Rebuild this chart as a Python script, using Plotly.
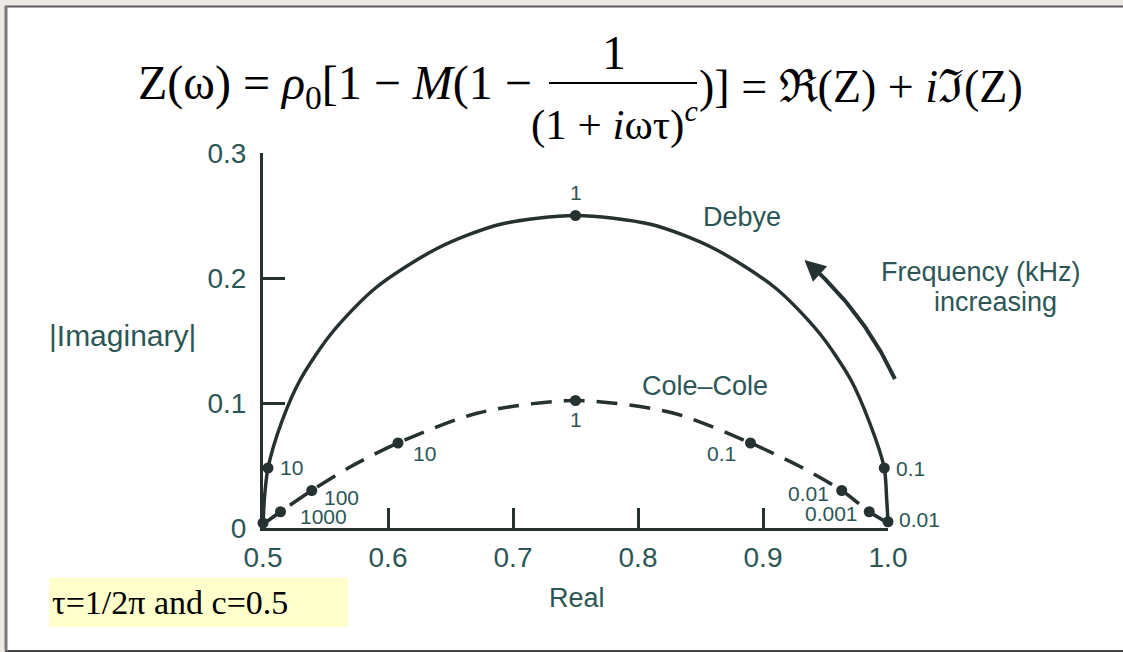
import numpy as np
import plotly.graph_objects as go

W, H = 1123, 652

# ---- data: complex resistivity, Real vs |Imaginary| (rho0 = 1, M = 0.5) ----
# Debye model, frequencies in kHz at the marked points
debye_freq = ["100", "10", "1", "0.1", "0.01"]
debye_re = [0.500, 0.504, 0.750, 0.997, 1.000]
debye_im = [0.004, 0.048, 0.250, 0.048, 0.005]
debye_show = [False, True, True, True, True]

# points along the Debye arc
debye_arc_re = [0.500, 0.501, 0.504, 0.515, 0.530, 0.555, 0.590, 0.640, 0.690, 0.750,
                0.810, 0.860, 0.910, 0.945, 0.970, 0.985, 0.997, 0.999, 1.000]
debye_arc_im = [0.000, 0.022, 0.048, 0.085, 0.119, 0.156, 0.192, 0.224, 0.243, 0.250,
                0.243, 0.224, 0.192, 0.156, 0.119, 0.085, 0.048, 0.022, 0.005]

# Cole-Cole model (c = 0.5)
cole_freq = ["1000", "100", "10", "1", "0.1", "0.01", "0.001"]
cole_re = [0.514, 0.539, 0.608, 0.750, 0.890, 0.963, 0.985]
cole_im = [0.013, 0.030, 0.068, 0.102, 0.068, 0.030, 0.013]

cole_arc_re = [0.500, 0.514, 0.539, 0.570, 0.608, 0.672, 0.750, 0.828, 0.890, 0.930, 0.963, 0.985, 1.000]
cole_arc_im = [0.003, 0.013, 0.030, 0.049, 0.068, 0.092, 0.102, 0.092, 0.068, 0.049, 0.030, 0.013, 0.004]

x_ticks = [0.5, 0.6, 0.7, 0.8, 0.9, 1.0]
x_ticktext = ["0.5", "0.6", "0.7", "0.8", "0.9", "1.0"]
y_ticks = [0.0, 0.1, 0.2, 0.3]
y_ticktext = ["0", "0.1", "0.2", "0.3"]

# ---- styling ----
INK = "#263131"
TEXT = "#2C5656"
SANS = "Liberation Sans, Arial, sans-serif"
SERIF = "Liberation Serif, Times New Roman, serif"

# pixel placement of the axes: 0.5 on the real axis and 0 on the imaginary axis
X0PX, Y0PX, SCALE = 263.0, 528.0, 1250.0


def P(px, py):
    """pixel position -> paper fraction"""
    return px / W, 1 - py / H


fig = go.Figure()

# the drawn axes (x / y) carry no marks of their own; this keeps them rendered
fig.add_trace(go.Scatter(x=[0.5, 1.0], y=[0.0, 0.3], mode="markers", xaxis="x", yaxis="y",
                         marker=dict(opacity=0), hoverinfo="skip", showlegend=False))

# full-canvas data axes sharing the same scale as the drawn axes (no clipping)
x2_range = [0.5 - X0PX / SCALE, 0.5 + (W - X0PX) / SCALE]
y2_range = [-(H - Y0PX) / SCALE, Y0PX / SCALE]

fig.add_trace(go.Scatter(
    x=debye_arc_re, y=debye_arc_im, mode="lines", xaxis="x2", yaxis="y2",
    line=dict(color=INK, width=3.5, shape="spline", smoothing=0.8),
    hoverinfo="skip", showlegend=False))
fig.add_trace(go.Scatter(
    x=cole_arc_re, y=cole_arc_im, mode="lines", xaxis="x2", yaxis="y2",
    line=dict(color=INK, width=3.5, shape="spline", smoothing=0.8, dash="21px,12px"),
    hoverinfo="skip", showlegend=False))
fig.add_trace(go.Scatter(
    x=debye_re, y=debye_im, mode="markers", xaxis="x2", yaxis="y2",
    marker=dict(color=INK, size=11), cliponaxis=False, showlegend=False))
fig.add_trace(go.Scatter(
    x=cole_re, y=cole_im, mode="markers", xaxis="x2", yaxis="y2",
    marker=dict(color=INK, size=11), cliponaxis=False, showlegend=False))

# "frequency increasing" arc arrow, concentric with the Debye circle
r_arrow = 0.282
ang = np.radians(np.linspace(25.0, 47.0, 40))
fig.add_trace(go.Scatter(
    x=0.75 + r_arrow * np.cos(ang), y=r_arrow * np.sin(ang), mode="lines",
    xaxis="x2", yaxis="y2", line=dict(color=INK, width=4),
    hoverinfo="skip", showlegend=False))

annotations = []
head_a, tail_a = np.radians(49.5), np.radians(46.5)
annotations.append(dict(
    x=0.75 + r_arrow * np.cos(head_a), y=r_arrow * np.sin(head_a),
    ax=0.75 + r_arrow * np.cos(tail_a), ay=r_arrow * np.sin(tail_a),
    xref="x2", yref="y2", axref="x2", ayref="y2", text="", showarrow=True,
    arrowhead=2, arrowsize=1.05, arrowwidth=4, arrowcolor=INK, standoff=0))

# frequency labels beside the points
small = dict(family=SANS, size=21, color=TEXT)
debye_offsets = {"10": (10, 1, "left"), "1": (0, 23, "center"),
                 "0.1": (10, 0, "left"), "0.01": (9, 2, "left")}
for f, xr, yi, show in zip(debye_freq, debye_re, debye_im, debye_show):
    if not show:
        continue
    dx, dy, anc = debye_offsets[f]
    annotations.append(dict(x=xr, y=yi, xref="x2", yref="y2", text=f, showarrow=False,
                            xanchor=anc, yanchor="middle", xshift=dx, yshift=dy, font=small))

cole_offsets = {"1000": (17, -5, "left"), "100": (10, -7, "left"), "10": (13, -10, "left"),
                "1": (0, -19, "center"), "0.1": (-13, -10, "right"),
                "0.01": (-11, -3, "right"), "0.001": (-9, -2, "right")}
for f, xr, yi in zip(cole_freq, cole_re, cole_im):
    dx, dy, anc = cole_offsets[f]
    annotations.append(dict(x=xr, y=yi, xref="x2", yref="y2", text=f, showarrow=False,
                            xanchor=anc, yanchor="middle", xshift=dx, yshift=dy, font=small))

big = dict(family=SANS, size=27, color=TEXT)


def label(px, py, text, font, xanchor="center", yanchor="middle"):
    x, y = P(px, py)
    annotations.append(dict(x=x, y=y, xref="paper", yref="paper", text=text, showarrow=False,
                            xanchor=xanchor, yanchor=yanchor, font=font))


label(742, 217, "Debye", big)
label(705, 386, "Cole–Cole", big)
label(981, 272, "Frequency (kHz)", big)
label(995, 302, "increasing", big)
label(122, 335, "|Imaginary|", dict(family=SANS, size=30, color=TEXT))
label(577, 598, "Real", big)

# model equation
eq = dict(family=SERIF, size=48, color="black")
label(546, 86, "Z(ω) = <i>ρ</i><sub>0</sub>[1 − <i>M</i>(1 − ", eq, xanchor="right")
label(614, 53, "1", eq)
label(618, 121, "(1 + <i>i</i>ωτ)<sup><i>c</i> </sup>", dict(family=SERIF, size=43, color="black"))
label(697, 86, ")] = ℜ(Z) + <i>i</i>ℑ(Z)", dict(family=SERIF, size=46, color="black"), xanchor="left")

# parameter note
label(50, 602, "τ=1/2π and c=0.5", dict(family=SERIF, size=34, color="black"), xanchor="left")

shapes = []


def rect(px0, py0, px1, py1, fill, layer="below"):
    x0, y0 = P(px0, py0)
    x1, y1 = P(px1, py1)
    shapes.append(dict(type="rect", xref="paper", yref="paper", x0=x0, y0=y0, x1=x1, y1=y1,
                       fillcolor=fill, line=dict(width=0), layer=layer))


def hline(px0, px1, py, color, width, layer="below"):
    x0, y = P(px0, py)
    x1, _ = P(px1, py)
    shapes.append(dict(type="line", xref="paper", yref="paper", x0=x0, y0=y, x1=x1, y1=y,
                       line=dict(color=color, width=width), layer=layer))


# page frame: beige margin at top and left, dark inset edges
rect(-4, -4, W + 4, 6, "#ECE8E4")
rect(-4, -4, 5, H + 4, "#ECE8E4")
hline(5, W + 4, 6.5, "#5a5a5a", 2)
hline(5, W + 4, 651, "#444444", 2)
x_l, y_t = P(6, 6)
_, y_b = P(6, 651)
shapes.append(dict(type="line", xref="paper", yref="paper", x0=x_l, y0=y_t, x1=x_l, y1=y_b,
                   line=dict(color="#7a7a7a", width=3), layer="below"))
# highlighted note box
rect(49, 578, 348, 627, "#FFFFCC")
# fraction bar
hline(549, 697, 83, "black", 2, layer="above")

axis_common = dict(showgrid=False, zeroline=False, showline=True, linecolor=INK, linewidth=3,
                   ticks="inside", tickwidth=3, tickcolor=INK, automargin=False,
                   tickfont=dict(family=SANS, size=28, color=TEXT), fixedrange=True)

fig.update_layout(
    width=W, height=H, margin=dict(l=0, r=0, t=0, b=0, pad=0, autoexpand=False),
    paper_bgcolor="white", plot_bgcolor="rgba(0,0,0,0)",
    showlegend=False,
    xaxis=dict(domain=[X0PX / W, (X0PX + 0.5 * SCALE) / W], range=[0.5, 1.0],
               tickvals=x_ticks, ticktext=x_ticktext, ticklen=20, ticklabelstandoff=2,
               anchor="y", **axis_common),
    yaxis=dict(domain=[(H - Y0PX) / H, (H - Y0PX + 0.3 * SCALE) / H], range=[0.0, 0.3],
               tickvals=y_ticks, ticktext=y_ticktext, ticklen=22, ticklabelstandoff=8,
               anchor="x", **axis_common),
    xaxis2=dict(domain=[0, 1], range=x2_range, visible=False, anchor="y2",
                automargin=False, fixedrange=True),
    yaxis2=dict(domain=[0, 1], range=y2_range, visible=False, anchor="x2",
                automargin=False, fixedrange=True),
    annotations=annotations, shapes=shapes,
)

fig.write_html("out.html")
